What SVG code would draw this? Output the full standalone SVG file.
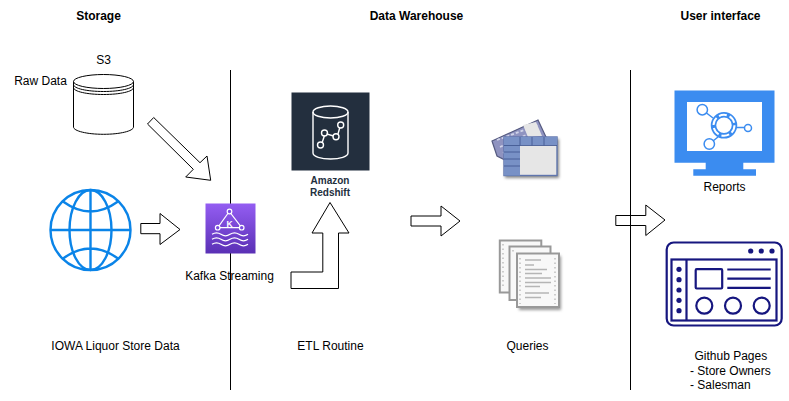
<svg xmlns="http://www.w3.org/2000/svg" width="789" height="401" viewBox="0 0 789 401">
<style>
text{font-family:"Liberation Sans",Arial,sans-serif;font-size:12px;fill:#000;text-anchor:middle}
.h{font-weight:700}
.l{text-anchor:start}
.arrow{fill:#fff;stroke:#000;stroke-width:1}
.divider{stroke:#000;stroke-width:1;fill:none}
.cyl{fill:none;stroke:#000;stroke-width:1}
.globe{fill:none;stroke:#0a84e8;stroke-width:2.4}
.kf{fill:none;stroke:#fff;stroke-width:1.2}
.rs{fill:none;stroke:#fff;stroke-width:1.4}
.win{fill:none;stroke:#16167f;stroke-width:2.2}
.dot{fill:#16167f}
.mon{fill:none;stroke:#3b8cf0;stroke-width:1.5}
.pg{fill:#f8f8f8;stroke:#999;stroke-width:2}
.tx{fill:none;stroke:#b5b5b5;stroke-width:1.3}
</style>
<defs>
<linearGradient id="kg" x1="0" y1="0" x2="0" y2="1"><stop offset="0" stop-color="#945df2"/><stop offset="1" stop-color="#5a30b5"/></linearGradient>
<filter id="soft" x="-10%" y="-10%" width="120%" height="120%"><feGaussianBlur stdDeviation="0.7"/></filter>
<filter id="shadow" x="-20%" y="-20%" width="140%" height="140%"><feGaussianBlur stdDeviation="1.5"/></filter>
<path id="wave" d="M212 0q4.500-3 9 0t9 0t9 0t9 0" fill="none" stroke="#fff" stroke-width="1.200"/>
</defs>

<g id="dividers">
<line class="divider" x1="230.500" y1="70" x2="230.500" y2="390"/>
<line class="divider" x1="630.500" y1="70" x2="630.500" y2="390"/>
</g>

<g id="headers">
<text class="h" x="98.500" y="20">Storage</text>
<text class="h" x="416.500" y="20">Data Warehouse</text>
<text class="h" x="720.500" y="20">User interface</text>
</g>

<g id="connectors">
<polygon class="arrow" points="147.500,124 153.700,117.500 200,162.700 207,156 210.700,180.300 185.700,177 193.300,169.300"/>
<polygon class="arrow" points="140.800,223.500 160,223.500 160,213.500 180,229.500 160,244.500 160,233.700 140.800,233.700"/>
<polygon class="arrow" points="291,272 322.800,272 322.800,233 312,233 330,202.500 349,233 338.500,233 338.500,288.500 291,288.500"/>
<polygon class="arrow" points="411,216 441,216 441,206 460,221 441,236 441,226 411,226"/>
<polygon class="arrow" style="fill:none" points="615.800,215.500 645.800,215.500 645.800,205 665,220 645.800,235.500 645.800,225.500 615.800,225.500"/>
</g>

<g id="s3">
<path class="cyl" style="fill:#fff" d="M73.500 81.500v45.500c0 4 13.500 7.300 30 7.300s30-3.300 30-7.300v-45.500"/>
<ellipse class="cyl" style="fill:#fff" cx="103.500" cy="81.500" rx="30" ry="7"/>
<path class="cyl" d="M73.500 84.500c0 4 13.500 7 30 7s30-3 30-7M73.500 87.500c0 4 13.500 7 30 7s30-3 30-7"/>
<text x="103.500" y="64">S3</text>
<text x="40.500" y="85">Raw Data</text>
</g>

<g id="iowa">
<circle class="globe" cx="90.500" cy="230" r="40"/>
<ellipse class="globe" cx="90.500" cy="230" rx="21" ry="40"/>
<path class="globe" d="M90.500 190v80M50.500 230h80M63 201.500q27.500 20 55 0M63 258.500q27.500-20 55 0"/>
<text x="115.500" y="350">IOWA Liquor Store Data</text>
</g>

<g id="kafka">
<rect x="205.500" y="203.500" width="50" height="50" fill="url(#kg)"/>
<path class="kf" d="M229.300 211.500L217.700 227.700H241.700Z"/>
<circle class="kf" style="fill:#7a4be0" cx="229.500" cy="211.500" r="2.300"/>
<circle class="kf" style="fill:#7a4be0" cx="217.700" cy="227.700" r="2.300"/>
<circle class="kf" style="fill:#7a4be0" cx="241.700" cy="227.700" r="2.300"/>
<text x="229.500" y="226.500" style="font-size:8.500px;font-weight:700;fill:#fff">K</text>
<use href="#wave" y="234.300"/><use href="#wave" y="239.300"/><use href="#wave" y="244.300"/>
<text x="229.500" y="280">Kafka Streaming</text>
</g>

<g id="redshift">
<rect x="291.500" y="92.500" width="78" height="78" fill="#232f3e"/>
<ellipse class="rs" cx="330.500" cy="112" rx="17.500" ry="6"/>
<path class="rs" d="M313 112v41c0 3.500 8 6 17.500 6s17.500-2.500 17.500-6v-41"/>
<path class="rs" d="M322 143L324.500 135.500M326.500 133.800L333.500 136M338 134L339.800 127.500"/>
<circle class="rs" cx="320.500" cy="145" r="3"/>
<circle class="rs" cx="324.500" cy="133" r="3"/>
<circle class="rs" cx="336" cy="136.700" r="3"/>
<circle class="rs" cx="340.700" cy="125" r="3"/>
<text x="330" y="184" style="font-size:10px;font-weight:700;fill:#232f3e">Amazon</text>
<text x="330" y="196" style="font-size:10px;font-weight:700;fill:#232f3e">Redshift</text>
<text x="330.500" y="350">ETL Routine</text>
</g>

<g id="tables">
<rect x="505" y="139" width="54" height="39" fill="#888" filter="url(#shadow)"/>
<g filter="url(#soft)">
<polygon points="492,141 538,120 546,137 505,160 497,156" fill="#8f93c0" stroke="#555a80" stroke-width="1.200"/>
<path d="M497 140L538 125M500 147L533 132M503 153L520 145" stroke="#d0d3e8" stroke-width="1.800" stroke-dasharray="3 2" fill="none"/>
<polygon points="523,125 536,122 542,136 528,137" fill="#e6e6e6"/>
<rect x="504" y="137" width="53" height="38.500" fill="#e6e6e6" stroke="#5f75ad" stroke-width="1.400"/>
<rect x="504" y="137" width="53" height="8" fill="#7891c6"/>
<rect x="504" y="137" width="16" height="38.500" fill="#7891c6"/>
<path d="M504 145.500H520M504 152H520M504 159H520M504 166H520M520 137V145.500M532 137V145.500M544 137V145.500M520 145.500H557" stroke="#445a93" stroke-width="0.900" fill="none"/>
</g>
</g>

<g id="queries">
<rect x="519" y="256" width="42" height="54" fill="#999" filter="url(#shadow)"/>
<g filter="url(#soft)">
<rect class="pg" x="499.800" y="240.500" width="41.500" height="52"/>
<rect class="pg" x="509.500" y="246.500" width="41" height="53.500"/>
<rect class="pg" x="517" y="253.500" width="42" height="53.500"/>
<path class="tx" d="M520 258v46M555 258v46" stroke-dasharray="1.500 3"/>
<path class="tx" d="M525 260H541M525 265H534M525 269.500H547M525 273.500H542M525 278H551M525 282.500H551M525 286.500H540M525 293H549M525 297.500H541"/>
<path class="tx" d="M503 244v44M513 250v3" stroke-dasharray="1.500 3"/>
</g>
<text x="527.500" y="350">Queries</text>
</g>

<g id="reports">
<path fill="#3b8cf0" fill-rule="evenodd" d="M674.500 90.500H774.500V162.700H743.300V169.300H756V175.700H693.300V169.300H705.700V162.700H674.500ZM687 102V151H762V102Z"/>
<path class="mon" d="M706.500 113L713 118M737 127.500H744.500M718 137L713 141"/>
<circle class="mon" cx="702.300" cy="109.700" r="5.200"/>
<circle class="mon" cx="748" cy="128" r="3.500"/>
<circle class="mon" cx="709.300" cy="144" r="5.200"/>
<circle cx="724" cy="125.300" r="10.500" fill="none" stroke="#3b8cf0" stroke-width="5.500"/>
<circle cx="724" cy="125.300" r="10.500" fill="none" stroke="#fff" stroke-width="2" stroke-dasharray="8 3"/>
<circle cx="724" cy="125.300" r="4.500" fill="none" stroke="#3b8cf0" stroke-width="0"/>
<text x="724.500" y="191">Reports</text>
</g>

<g id="github">
<rect class="win" x="666.700" y="242.500" width="115" height="83" rx="7"/>
<rect class="win" x="671.500" y="259.500" width="105" height="61"/>
<path class="win" d="M686.500 259.500V320.500M727.300 269.500H770.700M727.300 278.700H770.700M727.300 287.800H770.700"/>
<rect class="win" x="695.700" y="269.200" width="26.500" height="19.300" rx="1"/>
<circle class="win" cx="704.300" cy="305.700" r="8"/>
<circle class="win" cx="733" cy="305.700" r="8"/>
<circle class="win" cx="761.700" cy="305.700" r="8"/>
<circle class="dot" cx="750.700" cy="251" r="2.600"/>
<circle class="dot" cx="761.300" cy="251" r="2.600"/>
<circle class="dot" cx="772" cy="251" r="2.600"/>
<circle class="dot" cx="679" cy="269.300" r="2.600"/>
<circle class="dot" cx="679" cy="279.700" r="2.600"/>
<circle class="dot" cx="679" cy="290" r="2.600"/>
<circle class="dot" cx="679" cy="300.300" r="2.600"/>
<circle class="dot" cx="679" cy="310.700" r="2.600"/>
<text class="l" x="694.500" y="360">Github Pages</text>
<text class="l" x="690" y="375">- Store Owners</text>
<text class="l" x="690" y="389">- Salesman</text>
</g>
</svg>
